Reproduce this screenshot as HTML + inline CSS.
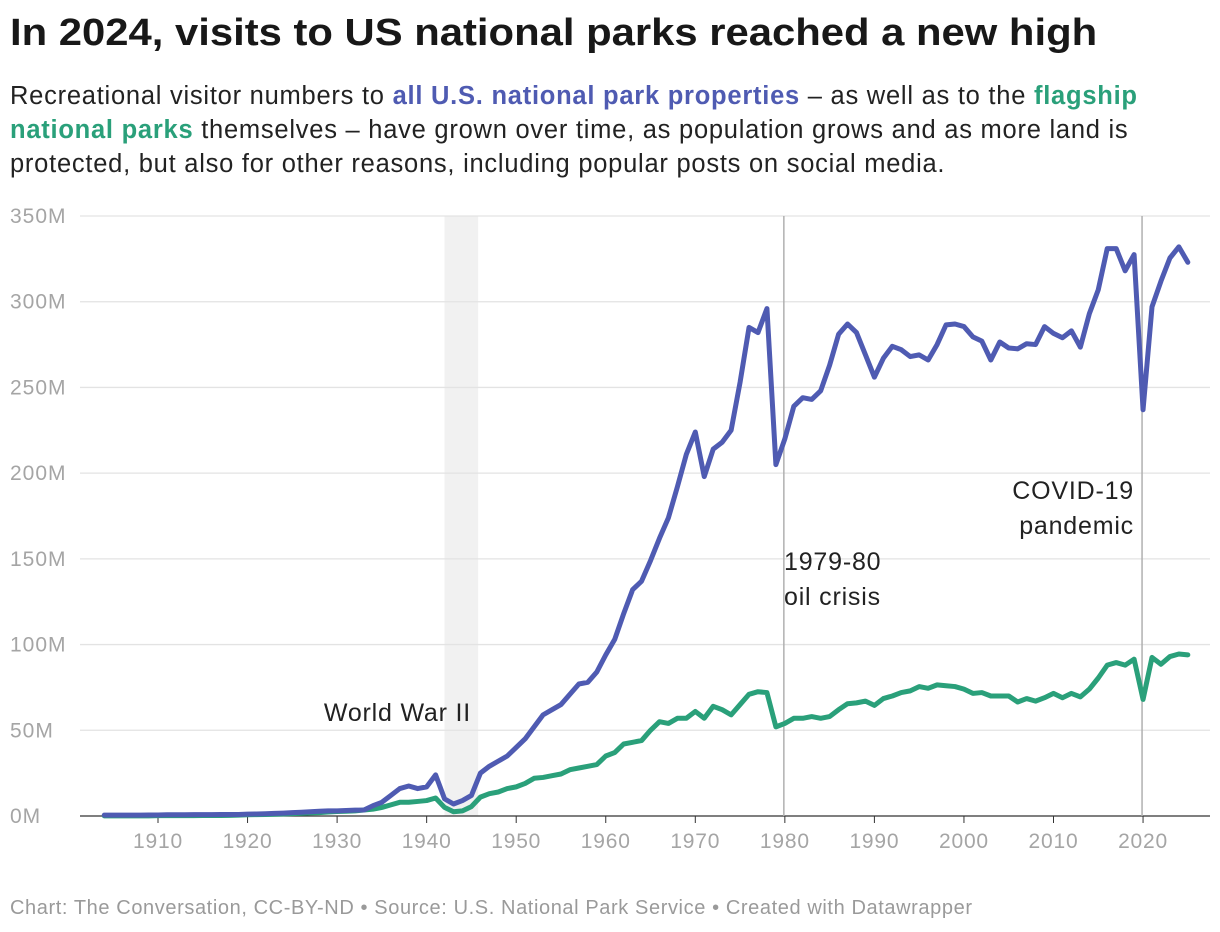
<!DOCTYPE html>
<html><head><meta charset="utf-8"><style>
body{margin:0;background:#fff;font-family:"Liberation Sans",sans-serif;width:1220px;height:932px;overflow:hidden;position:relative}
.t{position:absolute;left:10px;top:12px;font-size:38px;font-weight:bold;color:#181818;transform:scaleX(1.1);transform-origin:0 0;white-space:nowrap}
.s{position:absolute;left:10px;top:79px;font-size:25.5px;letter-spacing:0.75px;line-height:34px;color:#222;width:1210px;white-space:nowrap}
.b{color:#4f5bb2;font-weight:bold}.g{color:#2aa07a;font-weight:bold}
.f{position:absolute;left:10px;top:897px;font-size:20px;letter-spacing:0.6px;color:#9a9a9a;white-space:nowrap}
</style></head><body>
<div class="t">In 2024, visits to US national parks reached a new high</div>
<div class="s">Recreational visitor numbers to <span class="b">all U.S. national park properties</span> – as well as to the <span class="g">flagship</span><br><span class="g">national parks</span> themselves – have grown over time, as population grows and as more land is<br>protected, but also for other reasons, including popular posts on social media.</div>
<svg id="c" width="1220" height="932" style="position:absolute;left:0;top:0"></svg>
<div class="f">Chart: The Conversation, CC-BY-ND • Source: U.S. National Park Service • Created with Datawrapper</div>
<script>
const startYear=1904;
const allParks=[0.5,0.5,0.5,0.5,0.5,0.6,0.6,0.7,0.7,0.7,0.8,0.8,0.8,0.9,0.9,0.9,1.1,1.2,1.3,1.5,1.7,2,2.2,2.5,2.8,3,3,3.2,3.4,3.5,6,8,12,16,17.5,16,17,24,10,7,9,12,25,29,32,35,40,45,52,59,62,65,71,77,78,84,94,103,118,132,137,149,162,174,192,211,224,198,214,218,225,253,285,282,296,205,220,239,244,243,248,263,281,287,282,269,256,267,274,272,268,269,266,275,286.5,287,285.5,279.5,277,266,276.5,273,272.5,275.5,275,285.5,281.5,279,283,273.5,293,307,331,331,318,327.5,237,297,312,325.5,332,323];
const flagship=[0.1,0.1,0.1,0.1,0.1,0.1,0.2,0.2,0.2,0.2,0.2,0.3,0.3,0.3,0.4,0.5,0.7,0.8,0.9,1,1.2,1.4,1.6,1.8,2,2.3,2.6,2.8,3,3.5,4,5,6.5,8,8,8.5,9,10.5,5,2.5,3,5.5,11,13,14,16,17,19,22,22.5,23.5,24.5,27,28,29,30,35,37,42,43,44,50,55,54,57,57,61,57,64,62,59,65,71,72.5,72,52,54,57,57,58,57,58,62,65.5,66,67,64.5,68.5,70,72,73,75.5,74.5,76.5,76,75.5,74,71.5,72,70,70,70,66.5,68.5,67,69,71.5,69,71.5,69.5,74,80.5,88,89.5,88,91.5,68,92.5,88.5,93,94.5,94];
const yTicks=[0,50,100,150,200,250,300,350];
const xTicks=[1910,1920,1930,1940,1950,1960,1970,1980,1990,2000,2010,2020];
const NS='http://www.w3.org/2000/svg',svg=document.getElementById('c');
const X=y=>158+(y-1910)*8.955, Y=v=>816-v*600/350;
function el(t,a,p){const e=document.createElementNS(NS,t);for(const k in a)e.setAttribute(k,a[k]);(p||svg).appendChild(e);return e;}
let r=el('rect',{x:X(1942),y:216,width:X(1945.75)-X(1942),height:600,fill:'#f1f1f1'});


yTicks.forEach(v=>{
 const l=el('line',{x1:80,x2:1210,y1:Y(v),y2:Y(v),stroke:v?'#e3e3e3':'#333','stroke-width':1.3});
 
 
 const t=el('text',{x:10,y:Y(v)+7,'font-size':21,'letter-spacing':1,fill:'#a5a5a5'});t.textContent=v+'M';
 
 
});
xTicks.forEach(v=>{
 const k=el('line',{x1:X(v),x2:X(v),y1:816,y2:823,stroke:'#333','stroke-width':1});
 
 
 const t=el('text',{x:X(v),y:848,'font-size':21,'letter-spacing':0.8,fill:'#a5a5a5','text-anchor':'middle'});t.textContent=v;
 
 
});
[1980,2020].forEach(v=>{const l=el('line',{x1:X(v)-1,x2:X(v)-1,y1:216,y2:816,stroke:'#b0b0b0','stroke-width':1.5});
 
 });
function series(d,c,n){const p=el('polyline',{points:d.map((v,i)=>X(startYear+i)+','+Y(v)).join(' '),fill:'none',stroke:c,'stroke-width':5,'stroke-linejoin':'round','stroke-linecap':'round'});
 
 }
series(flagship,'#2aa07a','flagship-parks-line');
series(allParks,'#4f5bb2','all-park-properties-line');
function ann(lines,x,y,anchor,n){lines.forEach((s,i)=>{const t=el('text',{x:x,y:y+i*35,'font-size':25,'letter-spacing':0.8,fill:'#222','text-anchor':anchor});t.textContent=s;
 
 });}
ann(['World War II'],471,721,'end','ww2-annotation');
ann(['1979-80','oil crisis'],784,570,'start','oil-crisis-annotation');
ann(['COVID-19'],1134,499,'end','covid-annotation');
ann(['pandemic'],1134,534,'end','covid-annotation');
</script>
</body></html>
